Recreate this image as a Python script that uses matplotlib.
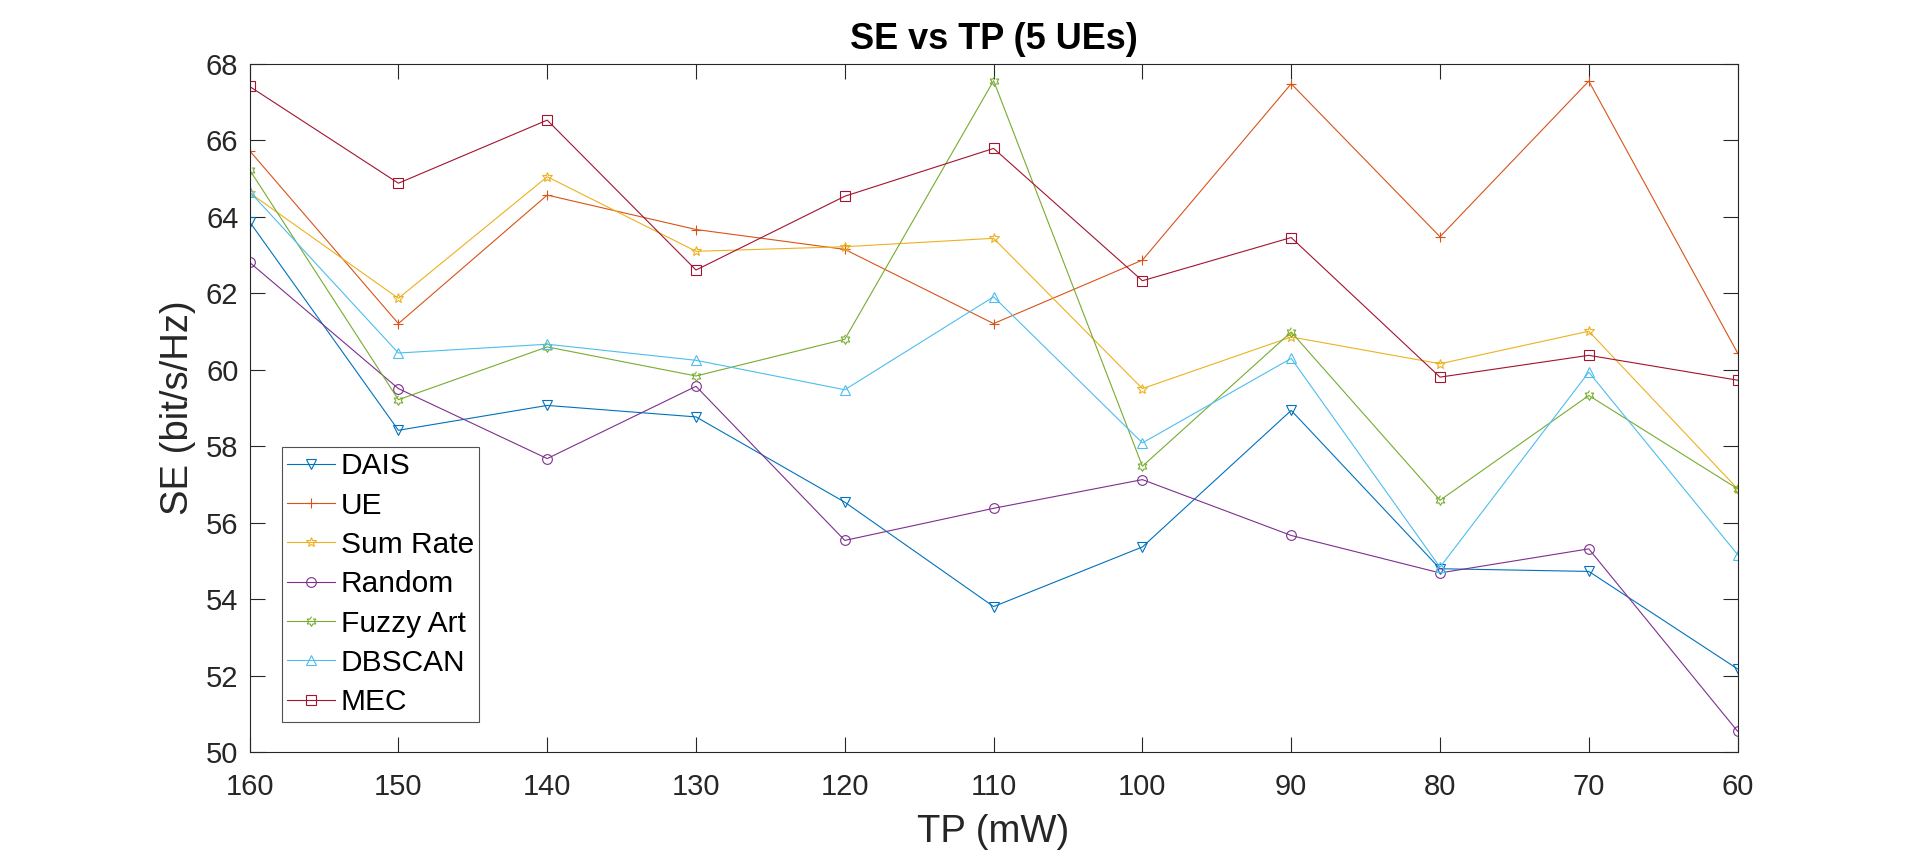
import numpy as np
import matplotlib.pyplot as plt

plt.rcParams['font.family'] = ['Liberation Sans', 'DejaVu Sans']

tp = [160, 150, 140, 130, 120, 110, 100, 90, 80, 70, 60]

dais = [63.87, 58.42, 59.07, 58.77, 56.54, 53.81, 55.37, 58.94, 54.80, 54.73, 52.18]
ue = [65.73, 61.21, 64.57, 63.67, 63.15, 61.21, 62.87, 67.48, 63.48, 67.55, 60.44]
sum_rate = [64.63, 61.87, 65.05, 63.10, 63.22, 63.44, 59.51, 60.86, 60.16, 61.01, 56.89]
random_sel = [62.81, 59.51, 57.68, 59.57, 55.54, 56.38, 57.13, 55.67, 54.69, 55.32, 50.55]
fuzzy_art = [65.23, 59.22, 60.60, 59.84, 60.80, 67.56, 57.48, 60.99, 56.59, 59.33, 56.89]
dbscan = [64.66, 60.44, 60.67, 60.25, 59.48, 61.91, 58.09, 60.30, 54.84, 59.94, 55.17]
mec = [67.41, 64.88, 66.53, 62.61, 64.54, 65.79, 62.33, 63.46, 59.81, 60.38, 59.73]

labels = ['DAIS', 'UE', 'Sum Rate', 'Random', 'Fuzzy Art', 'DBSCAN', 'MEC']

# six-pointed star like matlab's hexagram
ang = np.pi / 2 + np.arange(12) * np.pi / 6
rad = np.where(np.arange(12) % 2 == 0, 1.0, 1 / np.sqrt(3))
hexagram = list(zip(rad * np.cos(ang), rad * np.sin(ang)))

markers = ['v', '+', '*', 'o', hexagram, '^', 's']
colors = ['#0072BD', '#D95319', '#EDB120', '#7E2F8E', '#77AC30', '#4DBEEE', '#A2142F']
series = [dais, ue, sum_rate, random_sel, fuzzy_art, dbscan, mec]

fig = plt.figure(figsize=(19.2, 8.52), dpi=100)
ax = fig.add_axes([0.13, 0.117, 0.775, 0.808])

for y, lab, m, c in zip(series, labels, markers, colors):
    ms = 7.5 if m in ('+', '*') else 7
    ax.plot(tp, y, marker=m, color=c, label=lab, linewidth=0.8,
            markersize=ms, markerfacecolor='none', markeredgewidth=0.8)

ax.set_xlim(160, 60)
ax.set_ylim(50, 68)
ax.set_xticks(tp)
ax.set_yticks(np.arange(50, 69, 2))
ax.tick_params(direction='in', length=10.5, width=0.8, top=True, right=True,
               labelsize=21, labelcolor='#262626', color='#262626', pad=8)
ax.tick_params(axis='x', pad=15)
for s in ax.spines.values():
    s.set_linewidth(0.8)
    s.set_color('#262626')

ax.set_title('SE vs TP (5 UEs)', fontsize=26, fontweight='bold', pad=11)
ax.set_xlabel('TP (mW)', fontsize=27.5, color='#262626', labelpad=9)
ax.set_ylabel('SE (bit/s/Hz)', fontsize=27.5, color='#262626', labelpad=7.5)

leg = ax.legend(loc='lower left', bbox_to_anchor=(0.1467, 0.153), bbox_transform=fig.transFigure,
                fontsize=21.5, frameon=True, fancybox=False, edgecolor='#262626',
                handlelength=1.6, handletextpad=0.2, labelspacing=0.38, borderpad=0.18,
                borderaxespad=0)
leg.get_frame().set_linewidth(0.8)

fig.savefig('out.png', dpi=100)
